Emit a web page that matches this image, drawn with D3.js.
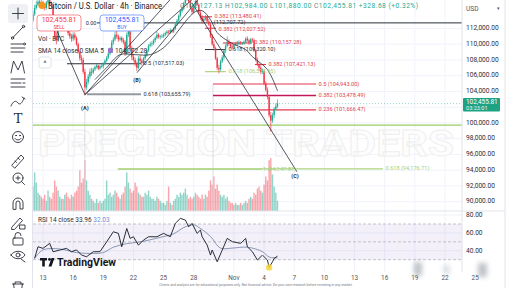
<!DOCTYPE html>
<html><head><meta charset="utf-8">
<script src="https://cdn.jsdelivr.net/npm/d3@7"></script>
<style>
html,body{margin:0;padding:0;background:#fff;overflow:hidden;}
svg{display:block;font-family:Roboto,"Liberation Sans",sans-serif;}
</style></head><body>
<svg id="c" width="512" height="288"></svg>
<script>
// ---------- data: BTC/USD 4h bars (prices in thousands of USD) ----------
const firstBarUtc = Date.UTC(2025, 9, 12, 0);
const barHours = 4;
const firstOpen = 113.0;
const closes = [
 113.8,114.6,115.0,115.4,115.2,115.3,
 115.0,114.6,115.3,115.6,115.1,115.0,
 113.2,111.0,110.5,112.0,112.8,113.0,
 112.8,113.2,112.0,111.4,111.0,110.7,
 111.2,110.8,110.0,109.0,108.2,108.0,
 106.5,104.5,105.2,105.9,106.5,106.4,
 106.8,107.1,107.3,106.9,107.2,107.2,
 107.5,107.9,108.3,108.8,109.4,110.2,
 110.6,111.2,111.0,110.6,110.8,110.5,
 110.3,108.8,111.2,111.6,109.5,108.4,
 108.0,107.5,107.0,108.2,107.9,107.6,
 108.2,108.6,109.2,109.8,110.0,110.1,
 110.5,110.8,111.2,110.9,111.0,111.0,
 111.2,111.4,111.6,111.5,111.8,111.6,
 112.0,112.5,113.0,113.6,114.2,114.5,
 115.2,115.8,116.0,115.4,114.6,114.1,
 114.8,115.5,115.0,114.0,113.4,112.9,
 113.2,113.5,112.9,112.5,111.0,110.0,
 109.5,108.2,107.0,106.8,107.8,108.3,
 109.2,109.8,110.3,110.0,109.7,109.6,
 109.9,110.1,110.0,110.2,110.1,110.1,
 110.3,110.7,110.5,110.2,110.6,110.5,
 109.2,108.0,107.4,107.0,106.5,106.6,
 105.0,104.2,103.3,101.0,100.3,101.0,
 101.8,102.12713,102.45581];
const highs = [
 114.2,115.0,115.5,115.8,115.6,115.6,
 115.5,115.2,115.5,116.0,115.8,115.4,
 115.2,113.4,111.5,112.3,113.1,113.4,
 113.3,113.6,113.4,112.3,111.8,111.3,
 111.5,111.5,111.0,110.2,109.3,108.6,
 108.3,106.9,105.6,106.2,106.9,107.0,
 107.0,107.3,107.5,107.4,107.4,107.5,
 107.7,108.1,108.5,109.0,109.6,110.5,
 110.9,111.6,111.7,111.2,111.0,111.0,
 110.8,110.5,111.5,112.4,111.9,109.8,
 108.7,108.3,107.8,108.5,108.6,108.1,
 108.4,108.9,109.4,110.0,110.3,110.4,
 110.7,111.0,111.6,111.4,111.2,111.3,
 111.4,111.6,111.8,111.8,112.0,111.9,
 112.2,112.7,113.2,113.8,114.4,114.9,
 115.4,116.0,116.3,116.2,115.6,114.9,
 115.0,115.8,116.0,115.2,114.3,113.7,
 113.4,113.7,113.6,113.2,112.7,111.3,
 110.4,109.7,108.4,107.4,108.0,108.6,
 109.4,110.0,111.0,110.6,110.3,110.0,
 110.1,110.3,110.4,110.5,110.4,110.3,
 110.5,110.9,111.0,110.7,110.8,110.8,
 110.7,109.4,108.3,107.7,107.3,106.9,
 106.8,105.3,104.5,103.5,101.4,101.3,
 102.0,102.5,102.984];
const lows = [
 112.8,113.6,114.4,114.8,114.9,114.9,
 114.8,114.3,114.4,115.0,114.9,114.6,
 113.0,110.6,110.0,110.3,111.7,112.5,
 112.4,112.5,111.8,111.1,110.7,110.3,
 110.4,110.5,109.8,108.8,107.9,107.5,
 106.2,103.5,104.2,104.9,105.6,106.0,
 106.2,106.6,106.9,106.7,106.7,107.0,
 106.9,107.3,107.7,108.1,108.6,109.2,
 109.9,110.4,110.7,110.3,110.4,110.2,
 110.0,108.5,108.6,110.9,109.2,108.0,
 107.8,107.2,106.6,106.8,107.6,107.3,
 107.4,108.0,108.4,109.0,109.6,109.7,
 109.9,110.2,110.6,110.7,110.6,110.8,
 110.8,111.0,111.2,111.3,111.3,111.4,
 111.4,111.8,112.3,112.8,113.4,114.0,
 114.3,115.0,115.5,115.2,114.4,113.8,
 113.9,114.6,114.8,113.8,113.1,112.6,
 112.6,113.0,112.7,112.3,110.8,109.8,
 109.2,108.0,106.7,106.3,106.6,107.6,
 108.0,108.9,109.6,109.8,109.5,109.3,
 109.4,109.8,109.8,109.9,109.9,109.9,
 109.9,110.1,110.3,109.9,110.0,110.2,
 109.0,107.8,107.2,106.6,106.2,106.2,
 104.8,104.0,103.0,100.7,98.9,100.0,
 100.6,101.6,101.88];
// volume, thousands of BTC
const volumes = [
 12,19,14,9,8,7, 6,8,5,10,7,6, 9,15,12,10,7,6, 6,8,9,7,6,8,
 7,9,10,12,20,14, 16,25,15,10,8,6, 5,4,6,4,5,4, 5,6,15,8,9,7,
 8,10,9,7,6,8, 9,12,19,14,11,9, 10,14,12,9,8,7, 7,9,8,10,7,6,
 6,5,7,6,5,4, 4,3,5,12,4,3, 5,6,8,7,9,8, 9,11,8,6,7,6,
 7,9,8,7,6,8, 6,8,7,10,15,13, 17,11,13,10,8,7, 8,6,7,5,4,4,
 3,4,3,3,4,3, 4,5,4,6,7,6, 9,8,11,12,10,9, 13,17,15,25,26,18,
 12,9,5];
// RSI(14) and its moving average, sampled at bar indices
const rsiIdx = [1,3,6,10,12,16,20,23,26,29,32,36,40,44,48,51,53,56,58,60,63,66,69,74,78,82,85,88,91,93,95,98,100,101,104,106,107,110,113,116,119,124,127,128,131,134,137,140,141,143,144,146];
const rsiVal = [31.5,44.5,42.7,48.3,38.9,40.8,42.7,38.9,41.0,35.2,33.3,38.9,39.0,50.0,61.3,59.5,44.5,65.0,53.9,55.7,46.3,52.0,55.7,55.7,59.5,55.7,70.7,76.3,74.4,66.9,70.7,59.5,63.2,55.7,46.4,35.2,40.8,27.7,40.8,53.9,50.2,48.3,53.9,44.5,38.9,29.6,35.2,29.6,21.4,27.7,31.5,33.96];
const rsiMaIdx = [1,6,16,26,36,42,48,56,64,76,84,90,96,100,106,112,119,128,137,141,146];
const rsiMaVal = [31.5,41,42,38,37,38,44,48,50,55,59,66,69,65,56,43,43,44,39,33,32.03];
// SMA overlay (USD)
const smaIdx = [37,44,52,61,70,78,85,91,97,101,106,110,118,127,131,140,146];
const smaVal = [105500,107020,108670,108670,108670,109560,111210,112870,114140,114260,113120,111470,110200,109310,108420,106770,104072.28];
// trend lines: [bar1, usd1, bar2, usd2]
const trendLines = [
 [10.1,113750,31.0,103590],
 [31.0,103590,81.8,115640],
 [31.0,103590,94.9,115640],
 [62.1,106380,98.5,115640],
 [94.9,115260,157.6,93800]];
// fibonacci levels
const redFibRatio = ["0.382","0.382","0.382","0.382","0.5","0.382","0.236"];
const redFibUsd = [113480.41,112027.52,110157.28,107421.13,104943.00,103478.49,101666.47];
const redFibFrom = [99.7,102.7,113.4,132.5,107.5,107.5,107.5];
const redFibTo = [106.9,109.3,130.7,139.1,169.0,169.0,169.0];
const blackFibRatio = ["0.5","0.618","0.618"];
const blackFibUsd = [107517.03,103655.79,109320.10];
const blackFibFrom = [20.3,32.2,102.7];
const blackFibTo = [64.5,64.5,115.2];
const greenFibRatio = ["0.618","0.618","1"];
const greenFibUsd = [106514.95,94176.71,94147.87];
const greenFibFrom = [102.7,50.7,50.7];
const greenFibTo = [115.2,209.0,136.7];
const swingLevelUsd = 112707.72;
const supportUsd = 99720;
const pointA = [31.0,103590], pointB = [62.1,106380];
const priceTicks = [90000,92000,94000,96000,98000,100000,102000,104000,106000,108000,110000,112000];
const rsiTicks = [40,60,80];
const timeTickDays = [[9,13],[9,16],[9,19],[9,22],[9,25],[9,28],[10,1],[10,4],[10,7],[10,10],[10,13],[10,16],[10,19],[10,22],[10,25]];
const timeTickLabels = ["13","16","19","22","25","28","Nov","4","7","10","13","16","19","22","25"];

// ---------- layout ----------
const svg = d3.select('#c');
const L = 33, R = 462, paneBot = 211, rsiBot = 272;
const fmt = d3.format(",.2f");
const K = 1000;
const x = d3.scaleUtc().domain([new Date(firstBarUtc), new Date(Date.UTC(2025,10,24))]).range([32.95, 465.1]);
const bx = i => x(new Date(firstBarUtc + i * barHours * 3600e3));
const y = d3.scaleLinear().domain([90000,112000]).range([201.7,28.45]);
const yVol = d3.scaleLinear().domain([0,30]).range([paneBot,150]);
const yRsi = d3.scaleLinear().domain([30,70]).range([259.7,224]);

const bars = closes.map((c,i) => ({
  i, o:(i ? closes[i-1] : firstOpen)*K, c:c*K, h:highs[i]*K, l:lows[i]*K, v:volumes[i]
}));
const UP = '#22ab94', DN = '#f23645';

const defs = svg.append('defs');
defs.append('clipPath').attr('id','pane').append('rect').attr('x',L).attr('y',0).attr('width',R-L).attr('height',paneBot);
defs.append('clipPath').attr('id','rsip').append('rect').attr('x',L).attr('y',paneBot).attr('width',R-L).attr('height',rsiBot-paneBot);
defs.append('filter').attr('id','soft').attr('x','-50%').attr('y','-50%').attr('width','200%').attr('height','200%')
  .append('feGaussianBlur').attr('stdDeviation',2.6);

// grid
const grid = svg.append('g').attr('stroke','#f0f3fa').attr('stroke-width',1);
grid.selectAll('.hg').data(priceTicks).join('line').attr('x1',L).attr('x2',R).attr('y1',d=>y(d)).attr('y2',d=>y(d));
grid.selectAll('.rg').data(rsiTicks).join('line').attr('x1',L).attr('x2',R).attr('y1',d=>yRsi(d)).attr('y2',d=>yRsi(d));
const tickDates = timeTickDays.map(d => new Date(Date.UTC(2025,d[0],d[1])));
grid.selectAll('.vg').data(tickDates.filter(d=>x(d)<R)).join('line').attr('x1',d=>x(d)).attr('x2',d=>x(d)).attr('y1',0).attr('y2',rsiBot);

// watermark
svg.append('text').attr('x',38).attr('y',156).attr('textLength',416).attr('lengthAdjust','spacingAndGlyphs')
  .attr('font-size',36).attr('font-weight',700).attr('fill','#fdfdfd').attr('stroke','#eeeeee').attr('stroke-width',0.8)
  .text('PRECISION TRADERS');

const pane = svg.append('g').attr('clip-path','url(#pane)');

// volume
pane.append('g').selectAll('rect').data(bars).join('rect')
  .attr('x',d=>bx(d.i)-0.7).attr('width',1.4)
  .attr('y',d=>yVol(d.v)).attr('height',d=>paneBot-yVol(d.v))
  .attr('fill',d=>d.c>=d.o ? 'rgba(34,171,148,0.5)' : 'rgba(242,54,69,0.45)');

// vertical marker lines
pane.append('line').attr('x1',bx(pointA[0])).attr('x2',bx(pointA[0])).attr('y1',y(pointA[1])+16).attr('y2',paneBot).attr('stroke','#d1d4dc').attr('stroke-width',0.8);
pane.append('line').attr('x1',bx(redFibFrom[4])).attr('x2',bx(redFibFrom[4])).attr('y1',y(redFibUsd[4])).attr('y2',paneBot).attr('stroke','#d1d4dc').attr('stroke-width',0.8);

// green levels
pane.append('line').attr('x1',L).attr('x2',R).attr('y1',y(supportUsd)).attr('y2',y(supportUsd)).attr('stroke','#9ccc65').attr('stroke-width',1.4);
greenFibUsd.forEach((p,k)=>{
  pane.append('line').attr('x1',bx(greenFibFrom[k])).attr('x2',bx(greenFibTo[k])).attr('y1',y(p)).attr('y2',y(p))
    .attr('stroke','#aed581').attr('stroke-width',1.2);
});

// current price line
const last = bars[bars.length-1];
pane.append('line').attr('x1',L).attr('x2',R).attr('y1',y(last.c)).attr('y2',y(last.c))
  .attr('stroke','#22ab94').attr('stroke-width',0.8).attr('stroke-dasharray','1,2').attr('opacity',0.6);

// swing level across the chart
pane.append('line').attr('x1',bx(38.2)).attr('x2',R).attr('y1',y(swingLevelUsd)).attr('y2',y(swingLevelUsd)).attr('stroke','#2a2e39').attr('stroke-width',1);

// red fib levels
redFibUsd.forEach((p,k)=>{
  const strong = k===5;
  pane.append('line').attr('x1',bx(redFibFrom[k])).attr('x2',bx(redFibTo[k])).attr('y1',y(p)).attr('y2',y(p))
    .attr('stroke',strong ? '#c2185b' : '#e53950').attr('stroke-width',strong?1.5:1.1);
});
// black / grey fib levels
blackFibUsd.forEach((p,k)=>{
  const grey = k===1;
  pane.append('line').attr('x1',bx(blackFibFrom[k])).attr('x2',bx(blackFibTo[k])).attr('y1',y(p)).attr('y2',y(p))
    .attr('stroke',grey ? '#9598a1' : '#2a2e39').attr('stroke-width',grey?2:1);
});

// candles
const cg = pane.append('g');
cg.selectAll('line').data(bars).join('line')
  .attr('x1',d=>bx(d.i)).attr('x2',d=>bx(d.i)).attr('y1',d=>y(d.h)).attr('y2',d=>y(d.l))
  .attr('stroke',d=>d.c>=d.o?UP:DN).attr('stroke-width',0.7);
cg.selectAll('rect').data(bars).join('rect')
  .attr('x',d=>bx(d.i)-0.7).attr('width',1.4)
  .attr('y',d=>y(Math.max(d.o,d.c))).attr('height',d=>Math.max(0.8,Math.abs(y(d.o)-y(d.c))))
  .attr('fill',d=>d.c>=d.o?UP:DN);

// trend lines and SMA
pane.append('g').selectAll('line').data(trendLines).join('line')
  .attr('x1',d=>bx(d[0])).attr('y1',d=>y(d[1])).attr('x2',d=>bx(d[2])).attr('y2',d=>y(d[3]))
  .attr('stroke','#2a2e39').attr('stroke-width',0.8);
pane.append('path').datum(smaIdx.map((d,k)=>[d,smaVal[k]]))
  .attr('d',d3.line().x(d=>bx(d[0])).y(d=>y(d[1])).curve(d3.curveCatmullRom))
  .attr('fill','none').attr('stroke','#2a2e39').attr('stroke-width',0.8);

// level labels
const lab = svg.append('g').attr('font-size',5.6).attr('dominant-baseline','middle');
redFibUsd.forEach((p,k)=>{
  lab.append('text').attr('x',bx(redFibTo[k])+2.5).attr('y',y(p)+(k===1?0.8:0)).attr('fill','#e0424f')
    .text(`${redFibRatio[k]} (${fmt(p)})`);
});
blackFibUsd.forEach((p,k)=>{
  lab.append('text').attr('x',bx(blackFibTo[k])+2.5).attr('y',y(p)).attr('fill','#2a2e39')
    .text(`${blackFibRatio[k]} (${fmt(p)})`);
});
greenFibUsd.forEach((p,k)=>{
  lab.append('text').attr('x',bx(greenFibTo[k])+(k===2?1:2.5)).attr('y',y(p)+(k===2?0.6:0)).attr('fill','#a5d07a')
    .text(`${greenFibRatio[k]} (${fmt(p)})`);
});
lab.append('text').attr('x',bx(108)).attr('y',y(swingLevelUsd)-0.6).attr('fill','#2a2e39').text(`(${fmt(swingLevelUsd)})`);
lab.append('text').attr('x',bx(pointA[0])).attr('y',y(pointA[1])+14).attr('text-anchor','middle').attr('font-size',5.5).attr('font-weight',700).attr('fill','#2a2e39').text('(A)');
lab.append('text').attr('x',bx(pointB[0])).attr('y',y(pointB[1])+8).attr('text-anchor','middle').attr('font-size',5.5).attr('font-weight',700).attr('fill','#2a2e39').text('(B)');
const tC = trendLines[4];
lab.append('text').attr('x',bx(tC[2])-2).attr('y',y(tC[3])+5).attr('text-anchor','middle').attr('font-size',5.5).attr('font-weight',700).attr('fill','#2a2e39').text('(C)');

// RSI pane
const rp = svg.append('g').attr('clip-path','url(#rsip)');
rp.append('rect').attr('x',L).attr('width',R-L).attr('y',yRsi(70)).attr('height',yRsi(30)-yRsi(70)).attr('fill','rgba(126,87,194,0.09)');
[70,50,30].forEach(v=>rp.append('line').attr('x1',L).attr('x2',R).attr('y1',yRsi(v)).attr('y2',yRsi(v))
  .attr('stroke','#b2b5be').attr('stroke-width',0.8).attr('stroke-dasharray','3,2'));
rp.append('path').datum(rsiMaIdx.map((d,k)=>[d,rsiMaVal[k]]))
  .attr('d',d3.line().x(d=>bx(d[0])).y(d=>yRsi(d[1])).curve(d3.curveCatmullRom))
  .attr('fill','none').attr('stroke','#6f7f9e').attr('stroke-width',0.8);
rp.append('path').datum(rsiIdx.map((d,k)=>[d,rsiVal[k]]))
  .attr('d',d3.line().x(d=>bx(d[0])).y(d=>yRsi(d[1])))
  .attr('fill','none').attr('stroke','#131722').attr('stroke-width',0.9);
const rMin = d3.minIndex(rsiVal);
rp.append('circle').attr('cx',bx(rsiIdx[rMin])).attr('cy',yRsi(rsiVal[rMin])).attr('r',3.2).attr('fill','#f7d33a').attr('opacity',0.85);

// pane separators
svg.append('line').attr('x1',L).attr('x2',505).attr('y1',paneBot).attr('y2',paneBot).attr('stroke','#e0e3eb');
svg.append('line').attr('x1',R).attr('x2',R).attr('y1',0).attr('y2',rsiBot).attr('stroke','#e0e3eb');
svg.append('line').attr('x1',32.5).attr('x2',32.5).attr('y1',0).attr('y2',288).attr('stroke','#e0e3eb');
svg.append('line').attr('x1',505).attr('x2',505).attr('y1',0).attr('y2',288).attr('stroke','#e0e3eb');

// price axis
const ax = svg.append('g').attr('font-size',6.6).attr('fill','#2a2e39').attr('dominant-baseline','middle');
ax.selectAll('.pt').data(priceTicks.filter(d=>d!==102000)).join('text').attr('x',466).attr('y',d=>y(d)).text(d=>fmt(d));
ax.selectAll('.rt').data(rsiTicks).join('text').attr('x',466).attr('y',d=>yRsi(d)).text(d=>fmt(d));
ax.append('text').attr('x',466).attr('y',9).attr('fill','#50535e').text('USD');
ax.append('text').attr('x',497).attr('y',8.5).attr('font-size',5).attr('fill','#50535e').text('▾');
const badgeY = y(last.c);
svg.append('rect').attr('x',463).attr('y',badgeY-5.5).attr('width',37).attr('height',13.5).attr('rx',1).attr('fill','#1ea284');
svg.append('text').attr('x',466).attr('y',badgeY-1).attr('font-size',6.4).attr('fill','#fff').attr('dominant-baseline','middle').text(fmt(last.c));
svg.append('text').attr('x',466).attr('y',badgeY+5).attr('font-size',5.6).attr('fill','#e6f5f1').attr('dominant-baseline','middle').text('03:23:01');

// time axis
svg.append('g').attr('font-size',6.4).attr('fill','#50535e').attr('text-anchor','middle')
  .selectAll('text').data(tickDates).join('text')
  .attr('x',d=>x(d)).attr('y',280).text((d,k)=>timeTickLabels[k]);
// smudged overlay near the bottom-right corner
const sm = svg.append('g').attr('filter','url(#soft)').attr('fill','#8d939c').attr('opacity',0.55);
sm.append('rect').attr('x',414).attr('y',262).attr('width',8).attr('height',14);
sm.append('rect').attr('x',443).attr('y',265).attr('width',7).attr('height',10).attr('opacity',0.5);
sm.append('rect').attr('x',478).attr('y',263).attr('width',9).attr('height',14);
svg.append('text').attr('x',256).attr('y',286).attr('font-size',3.4).attr('fill','#787b86').attr('text-anchor','middle')
  .text('Charts and analysis are for educational purposes only. Not financial advice. Do your own research before investing in any market.');

// header
svg.append('circle').attr('cx',42).attr('cy',5.5).attr('r',3.6).attr('fill','#f7931a');
svg.append('text').attr('x',48).attr('y',8.5).attr('font-size',9).attr('fill','#131722')
  .attr('textLength',114).attr('lengthAdjust','spacingAndGlyphs').text('Bitcoin / U.S. Dollar · 4h · Binance');
const hd = svg.append('text').attr('x',180).attr('y',7.5).attr('font-size',6.6).attr('fill','#787b86')
  .attr('textLength',238).attr('lengthAdjust','spacing');
hd.append('tspan').text('O'); hd.append('tspan').attr('fill','#22ab94').text(fmt(last.o)+'  ');
hd.append('tspan').text('H'); hd.append('tspan').attr('fill','#22ab94').text(fmt(last.h)+'  ');
hd.append('tspan').text('L'); hd.append('tspan').attr('fill','#22ab94').text(fmt(last.l)+'  ');
hd.append('tspan').text('C'); hd.append('tspan').attr('fill','#22ab94').text(fmt(last.c)+'  '+d3.format('+,.2f')(last.c-last.o)+' ('+d3.format('+.2%')((last.c-last.o)/last.o)+')');

// sell / buy boxes
[[37,'#f23645','SELL'],[100,'#2962ff','BUY']].forEach(([bxl,col,t])=>{
  svg.append('rect').attr('x',bxl).attr('y',15).attr('width',44).attr('height',16).attr('rx',3).attr('fill','#fff').attr('stroke',col).attr('stroke-width',0.8).attr('stroke-opacity',0.7);
  svg.append('text').attr('x',bxl+22).attr('y',21.5).attr('text-anchor','middle').attr('font-size',7).attr('fill',col).text(fmt(last.c));
  svg.append('text').attr('x',bxl+22).attr('y',28.5).attr('text-anchor','middle').attr('font-size',5).attr('fill',col).text(t);
});
svg.append('text').attr('x',91).attr('y',25).attr('text-anchor','middle').attr('font-size',5.5).attr('fill','#2a2e39').text('0.00');

// legends
const lg = svg.append('g').attr('font-size',6.5).attr('fill','#2a2e39');
lg.append('text').attr('x',38).attr('y',41).text('Vol · BTC');
lg.append('text').attr('x',38).attr('y',53).text('SMA 14 close 0 SMA 5');
lg.append('rect').attr('x',108).attr('y',48).attr('width',5).attr('height',5).attr('rx',1).attr('fill','#9575cd');
lg.append('text').attr('x',115).attr('y',53).text(fmt(smaVal[smaVal.length-1]));
lg.append('rect').attr('x',39).attr('y',57).attr('width',12).attr('height',11).attr('rx',2).attr('fill','#fff').attr('stroke','#e0e3eb');
lg.append('text').attr('x',45).attr('y',66).attr('text-anchor','middle').attr('font-size',7).text('^');
const rl = lg.append('text').attr('x',38).attr('y',222);
rl.append('tspan').text('RSI 14 close  ');
rl.append('tspan').text(rsiVal[rsiVal.length-1].toFixed(2)+'  ');
rl.append('tspan').attr('fill','#6d8bd6').text(rsiMaVal[rsiMaVal.length-1].toFixed(2));

// TradingView logo
const tv = svg.append('g');
tv.append('path').attr('d','M40 258h7v2.6h-2.2v6h-2.6v-6h-2.2z').attr('fill','#131722');
tv.append('circle').attr('cx',49.5).attr('cy',259.4).attr('r',1.4).attr('fill','#131722');
tv.append('path').attr('d','M51.5 258h3l-3 8.6h-3z').attr('fill','#131722');
tv.append('text').attr('x',57).attr('y',266.2).attr('font-size',10.5).attr('font-weight',700).attr('fill','#131722').text('TradingView');

// drawing toolbar
const tb = svg.append('g').attr('stroke','#2a2e39').attr('fill','none').attr('stroke-width',0.9).attr('stroke-linecap','round').attr('stroke-linejoin','round');
tb.append('rect').attr('x',8).attr('y',4).attr('width',20).attr('height',19).attr('rx',3).attr('fill','#eef0f4').attr('stroke','none');
tb.append('path').attr('d','M18 8v11M12.5 13.5h11');
tb.append('path').attr('d','M13 37.5L23 27');
tb.append('circle').attr('cx',12.5).attr('cy',38).attr('r',1.2);
tb.append('circle').attr('cx',23.5).attr('cy',26.5).attr('r',1.2);
tb.append('path').attr('d','M11 44h12M11 48h14M11 52h12');
tb.append('circle').attr('cx',24.5).attr('cy',44).attr('r',1);
tb.append('path').attr('d','M11 73L13.5 61L18 70L22 61L24.5 73');
tb.append('path').attr('d','M11 79h14M11 83h10M11 87h14M23 83h2');
tb.append('path').attr('d','M11 106c2-5 5-6 7-3c1.5 2 4 1 6-5M22 97l3 2');
tb.append('text').attr('x',18).attr('y',123).attr('text-anchor','middle').attr('font-size',13).attr('font-family','"DejaVu Serif",serif').attr('fill','#2a2e39').attr('stroke','none').text('T');
tb.append('circle').attr('cx',18).attr('cy',137).attr('r',5.5);
tb.append('path').attr('d','M15 138.5c1.5 2 4.5 2 6 0');
tb.append('circle').attr('cx',16).attr('cy',135.5).attr('r',0.4);
tb.append('circle').attr('cx',20).attr('cy',135.5).attr('r',0.4);
tb.append('path').attr('d','M12 165l9-10l3 3l-9 10zM15 161l1.5 1.5M18 158l1.5 1.5');
tb.append('circle').attr('cx',18).attr('cy',178).attr('r',5);
tb.append('path').attr('d','M16 178h4M18 176v4M21.5 181.5l3 3');
tb.append('path').attr('d','M13 209v-6a5 5 0 0 1 10 0v6h-3v-6a2 2 0 0 0-4 0v6z');
tb.append('path').attr('d','M12 227l8-9l2.5 2.5l-8 9h-2.5zM20 225h5v4h-5z');
tb.append('rect').attr('x',13).attr('y',238).attr('width',10).attr('height',7).attr('rx',1);
tb.append('path').attr('d','M15 238v-2.5a3 3 0 0 1 6 0');
tb.append('path').attr('d','M11 255c3-5 11-5 14 0c-3 5-11 5-14 0z');
tb.append('circle').attr('cx',18).attr('cy',255).attr('r',2);
tb.append('path').attr('d','M21 259l4 3');
tb.append('path').attr('d','M12.5 284h11M15 284v-2h6v2M13.5 284l1 6M22.5 284l-1 6');
</script>
</body></html>
